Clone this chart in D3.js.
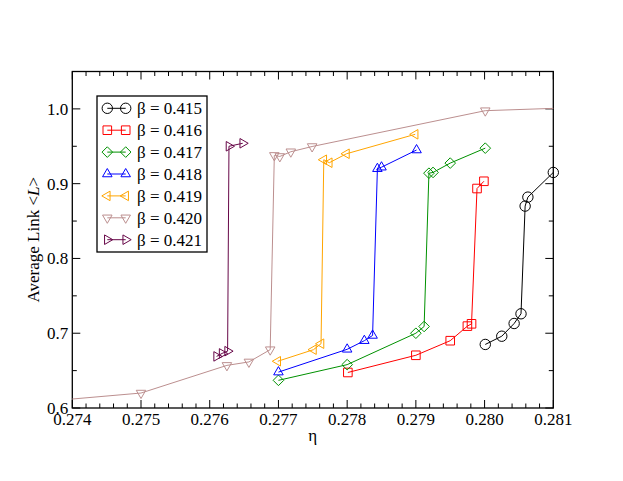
<!DOCTYPE html>
<html>
<head>
<meta charset="utf-8">
<script src="https://cdn.jsdelivr.net/npm/d3@7"></script>
<style>
  body { margin: 0; background: #fff; }
  svg { display: block; }
</style>
</head>
<body>
<script>
// Data
const betas = ['0.415', '0.416', '0.417', '0.418', '0.419', '0.420', '0.421'];
const colors = ['#000000', '#ff0000', '#009100', '#0000ff', '#ffa500', '#bc8f8f', '#670748'];
const shapes = ['circle', 'square', 'diamond', 'up', 'left', 'down', 'right'];

const eta415 = [0.28001, 0.28025, 0.28043, 0.28053, 0.28059, 0.28063, 0.28100];
const link415 = [0.685, 0.696, 0.713, 0.726, 0.870, 0.882, 0.915];

const eta416 = [0.27801, 0.27900, 0.27950, 0.27975, 0.27981, 0.27989, 0.27999];
const link416 = [0.6475, 0.6705, 0.690, 0.7095, 0.7126, 0.8935, 0.9032];

const eta417 = [0.27700, 0.27800, 0.27900, 0.27912, 0.27919, 0.27925, 0.27950, 0.28001];
const link417 = [0.637, 0.658, 0.700, 0.709, 0.914, 0.915, 0.9275, 0.9475];

const eta418 = [0.27700, 0.27800, 0.27825, 0.27837, 0.27844, 0.27850, 0.27901];
const link418 = [0.648, 0.6785, 0.690, 0.697, 0.920, 0.922, 0.945];

const eta419 = [0.27699, 0.27751, 0.27762, 0.27766, 0.27774, 0.27799, 0.27899];
const link419 = [0.6625, 0.678, 0.686, 0.932, 0.928, 0.940, 0.966];

const eta420 = [0.27500, 0.27625, 0.27657, 0.27688, 0.27694, 0.27702, 0.27718, 0.27749, 0.28001];
const link420 = [0.620, 0.657, 0.6616, 0.678, 0.9378, 0.9364, 0.9427, 0.9497, 0.9976];
// the 0.420 line runs on to both frame edges, without markers there
const eta420Ends = [0.274, 0.281];
const link420Ends = [0.612, 1.0007];

const eta421 = [0.27610, 0.27618, 0.27626, 0.27628, 0.27648];
const link421 = [0.669, 0.673, 0.676, 0.950, 0.954];

const etaSeries = [eta415, eta416, eta417, eta418, eta419, eta420, eta421];
const linkSeries = [link415, link416, link417, link418, link419, link420, link421];

const xTicks = [0.274, 0.275, 0.276, 0.277, 0.278, 0.279, 0.280, 0.281];
const yTicks = [0.6, 0.7, 0.8, 0.9, 1.0];

const width = 623;
const height = 481;
const plot = { left: 72.3, right: 553.3, top: 71.5, bottom: 408 };
const font = '"Liberation Serif", "Times New Roman", Times, serif';

const svg = d3.select('body').append('svg')
  .attr('width', width)
  .attr('height', height)
  .attr('font-family', font);

const x = d3.scaleLinear()
  .domain([0.274, 0.281])
  .range([plot.left, plot.right]);

const y = d3.scaleLinear()
  .domain([0.6, 1.05])
  .range([plot.bottom, plot.top]);

// marker shapes, drawn around (0,0)
function marker(shape) {
  const p = d3.path();
  const r = 5.5;
  if (shape === 'circle') {
    p.arc(0, 0, 5.2, 0, 2 * Math.PI);
  } else if (shape === 'square') {
    p.rect(-4.3, -4.3, 8.6, 8.6);
  } else if (shape === 'diamond') {
    p.moveTo(0, -5.3); p.lineTo(5.3, 0); p.lineTo(0, 5.3); p.lineTo(-5.3, 0); p.closePath();
  } else {
    const ang = { up: -90, right: 0, down: 90, left: 180 }[shape] * Math.PI / 180;
    for (let k = 0; k < 3; k++) {
      const a = ang + k * 2 * Math.PI / 3;
      const px = r * Math.cos(a);
      const py = r * Math.sin(a);
      if (k === 0) p.moveTo(px, py); else p.lineTo(px, py);
    }
    p.closePath();
  }
  return p.toString();
}

// Axis ticks (inward, on all four sides)
const frame = svg.append('g');
const xMinor = d3.range(0.274, 0.28101, 0.0002);
const yMinor = d3.range(0.6, 1.0501, 0.05);

xMinor.forEach((v) => {
  const major = xTicks.some(t => Math.abs(t - v) < 1e-7);
  const len = major ? 8 : 4.5;
  frame.append('line')
    .attr('x1', x(v)).attr('x2', x(v))
    .attr('y1', plot.bottom).attr('y2', plot.bottom - len)
    .attr('stroke', '#000').attr('stroke-width', 1);
  frame.append('line')
    .attr('x1', x(v)).attr('x2', x(v))
    .attr('y1', plot.top).attr('y2', plot.top + len)
    .attr('stroke', '#000').attr('stroke-width', 1);
});

yMinor.forEach((v) => {
  const major = yTicks.some(t => Math.abs(t - v) < 1e-7);
  const len = major ? 8 : 4.5;
  frame.append('line')
    .attr('x1', plot.left).attr('x2', plot.left + len)
    .attr('y1', y(v)).attr('y2', y(v))
    .attr('stroke', '#000').attr('stroke-width', 1);
  frame.append('line')
    .attr('x1', plot.right).attr('x2', plot.right - len)
    .attr('y1', y(v)).attr('y2', y(v))
    .attr('stroke', '#000').attr('stroke-width', 1);
});

frame.append('rect')
  .attr('x', plot.left).attr('y', plot.top)
  .attr('width', plot.right - plot.left)
  .attr('height', plot.bottom - plot.top)
  .attr('fill', 'none')
  .attr('stroke', '#000')
  .attr('stroke-width', 1.3);

// Tick labels
svg.append('g').selectAll('text')
  .data(xTicks)
  .join('text')
  .attr('x', d => x(d))
  .attr('y', plot.bottom + 17)
  .attr('text-anchor', 'middle')
  .attr('font-size', 17)
  .text(d3.format('.3f'));

svg.append('g').selectAll('text')
  .data(yTicks)
  .join('text')
  .attr('x', plot.left - 4)
  .attr('y', d => y(d) + 6)
  .attr('text-anchor', 'end')
  .attr('font-size', 17)
  .text(d3.format('.1f'));

// Axis titles
svg.append('text')
  .attr('x', (plot.left + plot.right) / 2)
  .attr('y', 441)
  .attr('text-anchor', 'middle')
  .attr('font-size', 17)
  .text('η');

const yTitle = svg.append('text')
  .attr('transform', `translate(39,${(plot.top + plot.bottom) / 2}) rotate(-90)`)
  .attr('text-anchor', 'middle')
  .attr('font-size', 17);
yTitle.append('tspan').text('Average Link <');
yTitle.append('tspan').attr('font-style', 'italic').text('L');
yTitle.append('tspan').text('>');

// Series
const line = d3.line()
  .x(d => x(d[0]))
  .y(d => y(d[1]));

betas.forEach((b, i) => {
  const pts = etaSeries[i].map((e, j) => [e, linkSeries[i][j]]);
  let linePts = pts;
  if (b === '0.420') {
    linePts = [[eta420Ends[0], link420Ends[0]], ...pts, [eta420Ends[1], link420Ends[1]]];
  }
  const g = svg.append('g');
  g.append('path')
    .datum(linePts)
    .attr('d', line)
    .attr('fill', 'none')
    .attr('stroke', colors[i])
    .attr('stroke-width', 1);
  g.selectAll('path.m')
    .data(pts)
    .join('path')
    .attr('class', 'm')
    .attr('transform', d => `translate(${x(d[0])},${y(d[1])})`)
    .attr('d', marker(shapes[i]))
    .attr('fill', 'none')
    .attr('stroke', colors[i])
    .attr('stroke-width', 1);
});

// Legend
const legend = svg.append('g');
legend.append('rect')
  .attr('x', 97).attr('y', 96)
  .attr('width', 110).attr('height', 156)
  .attr('fill', '#fff')
  .attr('stroke', '#000')
  .attr('stroke-width', 1.3);

betas.forEach((b, i) => {
  const ly = 108.3 + i * 21.9;
  legend.append('line')
    .attr('x1', 107.3).attr('x2', 125.7)
    .attr('y1', ly).attr('y2', ly)
    .attr('stroke', colors[i]).attr('stroke-width', 1);
  [107.3, 125.7].forEach((lx) => {
    legend.append('path')
      .attr('transform', `translate(${lx},${ly})`)
      .attr('d', marker(shapes[i]))
      .attr('fill', 'none')
      .attr('stroke', colors[i])
      .attr('stroke-width', 1);
  });
  legend.append('text')
    .attr('x', 137)
    .attr('y', ly + 6)
    .attr('font-size', 17)
    .text(`β = ${b}`);
});
</script>
</body>
</html>
